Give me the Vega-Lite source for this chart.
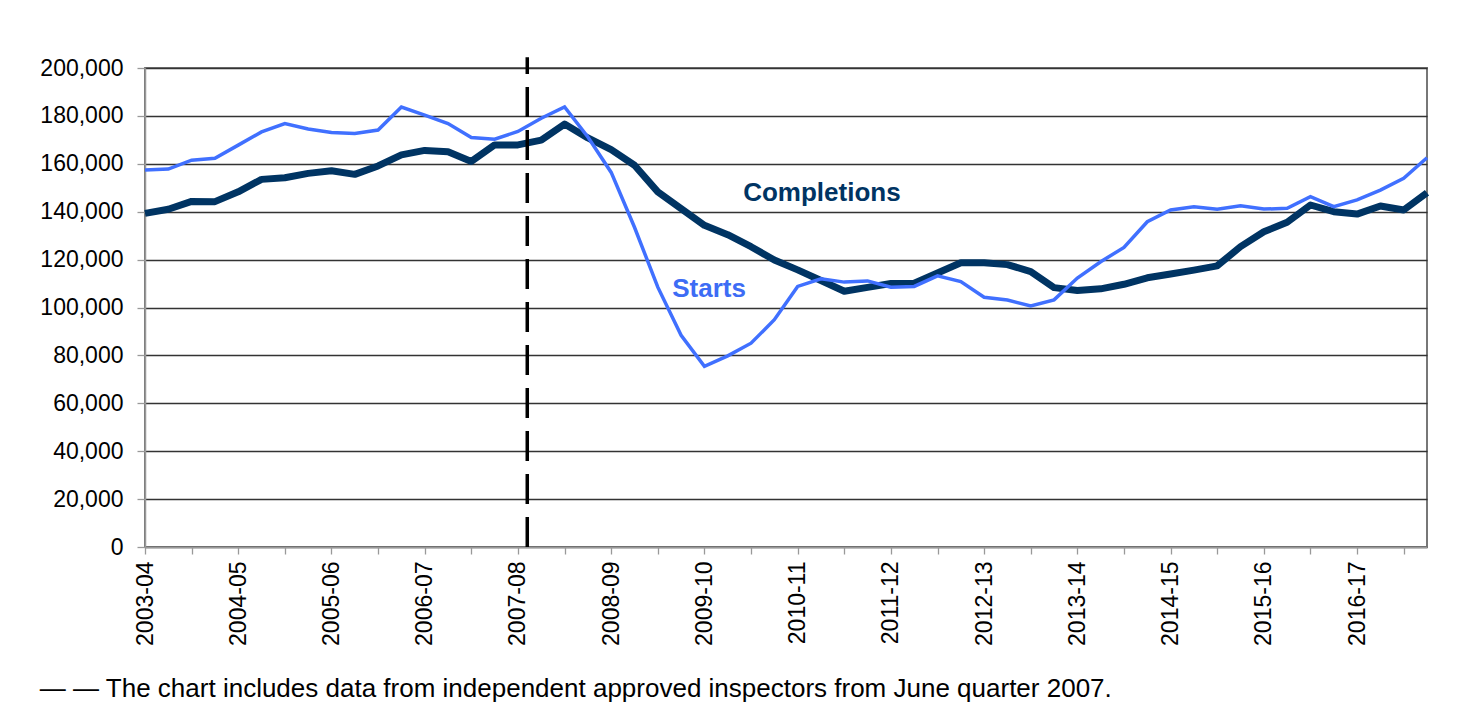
{
  "$schema": "https://vega.github.io/schema/vega-lite/v6.json",
  "width": 1282,
  "height": 479,
  "autosize": {"type": "none"},
  "padding": {"left": 145, "top": 68, "right": 50, "bottom": 155},
  "background": "white",
  "config": {
    "font": "Liberation Sans",
    "view": {"stroke": "#777", "strokeWidth": 2},
    "axis": {"labelFont": "Liberation Sans", "labelColor": "black", "labelFlush": false, "labelOverlap": false, "labelBound": false}
  },
  "title": {
    "text": "— —  The chart includes data from independent approved inspectors from June quarter 2007.",
    "orient": "bottom",
    "anchor": "start",
    "frame": "bounds",
    "fontSize": 26,
    "fontWeight": "normal",
    "font": "Liberation Sans",
    "color": "black",
    "offset": 31
  },
  "datasets": {
    "series": [
      {"t": 2003.0, "starts": 157400, "completions": 139300},
      {"t": 2003.25, "starts": 157800, "completions": 141000},
      {"t": 2003.5, "starts": 161500, "completions": 144300},
      {"t": 2003.75, "starts": 162300, "completions": 144200},
      {"t": 2004.0, "starts": 167800, "completions": 148300},
      {"t": 2004.25, "starts": 173300, "completions": 153500},
      {"t": 2004.5, "starts": 176800, "completions": 154200},
      {"t": 2004.75, "starts": 174500, "completions": 156000},
      {"t": 2005.0, "starts": 173100, "completions": 157100},
      {"t": 2005.25, "starts": 172700, "completions": 155600},
      {"t": 2005.5, "starts": 174100, "completions": 159100},
      {"t": 2005.75, "starts": 183700, "completions": 163700},
      {"t": 2006.0, "starts": 180300, "completions": 165600},
      {"t": 2006.25, "starts": 176800, "completions": 165000},
      {"t": 2006.5, "starts": 171000, "completions": 161000},
      {"t": 2006.75, "starts": 170300, "completions": 167900},
      {"t": 2007.0, "starts": 173500, "completions": 167900},
      {"t": 2007.25, "starts": 179000, "completions": 169900},
      {"t": 2007.5, "starts": 183700, "completions": 176600},
      {"t": 2007.75, "starts": 171200, "completions": 170800},
      {"t": 2008.0, "starts": 156400, "completions": 165900},
      {"t": 2008.25, "starts": 133500, "completions": 159400},
      {"t": 2008.5, "starts": 108500, "completions": 148300},
      {"t": 2008.75, "starts": 88400, "completions": 141300},
      {"t": 2009.0, "starts": 75400, "completions": 134300},
      {"t": 2009.25, "starts": 79800, "completions": 130400},
      {"t": 2009.5, "starts": 85100, "completions": 125400},
      {"t": 2009.75, "starts": 94900, "completions": 119800},
      {"t": 2010.0, "starts": 108800, "completions": 115700},
      {"t": 2010.25, "starts": 112000, "completions": 111300},
      {"t": 2010.5, "starts": 110600, "completions": 106800},
      {"t": 2010.75, "starts": 111100, "completions": 108400},
      {"t": 2011.0, "starts": 108500, "completions": 110000},
      {"t": 2011.25, "starts": 108800, "completions": 110100},
      {"t": 2011.5, "starts": 113200, "completions": 114400},
      {"t": 2011.75, "starts": 110800, "completions": 118700},
      {"t": 2012.0, "starts": 104300, "completions": 118700},
      {"t": 2012.25, "starts": 103100, "completions": 117900},
      {"t": 2012.5, "starts": 100600, "completions": 115000},
      {"t": 2012.75, "starts": 103200, "completions": 108300},
      {"t": 2013.0, "starts": 112300, "completions": 107100},
      {"t": 2013.25, "starts": 119100, "completions": 107800},
      {"t": 2013.5, "starts": 125100, "completions": 109700},
      {"t": 2013.75, "starts": 135800, "completions": 112400},
      {"t": 2014.0, "starts": 140700, "completions": 114000},
      {"t": 2014.25, "starts": 142100, "completions": 115600},
      {"t": 2014.5, "starts": 141000, "completions": 117400},
      {"t": 2014.75, "starts": 142500, "completions": 125400},
      {"t": 2015.0, "starts": 141100, "completions": 131600},
      {"t": 2015.25, "starts": 141400, "completions": 135600},
      {"t": 2015.5, "starts": 146300, "completions": 142800},
      {"t": 2015.75, "starts": 142100, "completions": 140000},
      {"t": 2016.0, "starts": 144900, "completions": 139000},
      {"t": 2016.25, "starts": 149000, "completions": 142400},
      {"t": 2016.5, "starts": 153900, "completions": 140700},
      {"t": 2016.75, "starts": 162500, "completions": 147900}
    ],
    "labels": [
      {"t": 2010.26, "v": 147800, "text": "Completions", "series": "Completions"},
      {"t": 2009.05, "v": 107700, "text": "Starts", "series": "Starts"}
    ],
    "marker": [{"t": 2007.1, "bottom": 0, "top": 204500}]
  },
  "layer": [
    {
      "data": {"name": "series"},
      "mark": {"type": "line", "color": "#003463", "strokeWidth": 7, "strokeJoin": "round"},
      "encoding": {
        "x": {
          "field": "t", "type": "quantitative",
          "scale": {"domain": [2003, 2016.75], "nice": false, "zero": false},
          "axis": {
            "title": null,
            "grid": false,
            "values": [2003, 2003.25, 2003.5, 2003.75, 2004, 2004.25, 2004.5, 2004.75, 2005, 2005.25, 2005.5, 2005.75, 2006, 2006.25, 2006.5, 2006.75, 2007, 2007.25, 2007.5, 2007.75, 2008, 2008.25, 2008.5, 2008.75, 2009, 2009.25, 2009.5, 2009.75, 2010, 2010.25, 2010.5, 2010.75, 2011, 2011.25, 2011.5, 2011.75, 2012, 2012.25, 2012.5, 2012.75, 2013, 2013.25, 2013.5, 2013.75, 2014, 2014.25, 2014.5, 2014.75, 2015, 2015.25, 2015.5, 2015.75, 2016, 2016.25, 2016.5, 2016.75],
            "labelExpr": "datum.value % 1 === 0 ? toString(datum.value) + '-' + slice(toString(datum.value + 1), 2) : ''",
            "labelAngle": -90,
            "labelFontSize": 23,
            "labelPadding": 7,
            "tickSize": 7,
            "tickColor": "#999",
            "tickWidth": 1.3,
            "domainColor": "#999",
            "domainWidth": 1.5
          }
        },
        "y": {
          "field": "completions", "type": "quantitative",
          "scale": {"domain": [0, 200000], "nice": false},
          "axis": {
            "title": null,
            "values": [0, 20000, 40000, 60000, 80000, 100000, 120000, 140000, 160000, 180000, 200000],
            "format": ",.0f",
            "labelFontSize": 23,
            "labelPadding": 14,
            "tickSize": 8,
            "tickColor": "#999",
            "tickWidth": 1.3,
            "domainColor": "#999",
            "domainWidth": 1.5,
            "gridColor": "#333",
            "gridWidth": 1.3
          }
        }
      }
    },
    {
      "data": {"name": "series"},
      "mark": {"type": "line", "color": "#4070FF", "strokeWidth": 3.5},
      "encoding": {
        "x": {"field": "t", "type": "quantitative"},
        "y": {"field": "starts", "type": "quantitative"}
      }
    },
    {
      "data": {"name": "marker"},
      "mark": {"type": "rule", "color": "black", "strokeWidth": 3.5, "strokeDash": [30, 13], "clip": false},
      "encoding": {
        "x": {"field": "t", "type": "quantitative"},
        "y": {"field": "bottom", "type": "quantitative"},
        "y2": {"field": "top"}
      }
    },
    {
      "data": {"name": "labels"},
      "mark": {"type": "text", "fontSize": 26, "fontWeight": "bold", "font": "Liberation Sans", "align": "center", "baseline": "middle"},
      "encoding": {
        "x": {"field": "t", "type": "quantitative"},
        "y": {"field": "v", "type": "quantitative"},
        "text": {"field": "text"},
        "color": {
          "field": "series", "type": "nominal",
          "scale": {"domain": ["Completions", "Starts"], "range": ["#003463", "#3D6CF5"]},
          "legend": null
        }
      }
    }
  ]
}
